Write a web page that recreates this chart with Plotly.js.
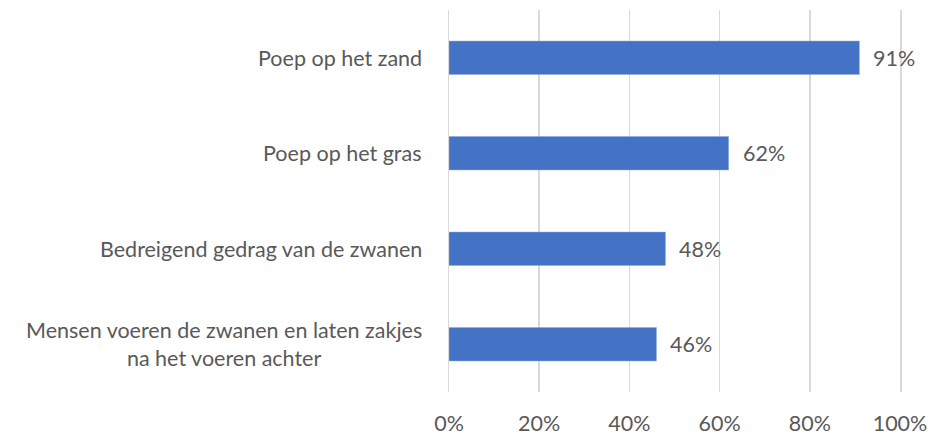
<!DOCTYPE html>
<html>
<head>
<meta charset="utf-8">
<script src="https://cdn.plot.ly/plotly-3.0.1.min.js"></script>
<style>
  html, body { margin: 0; padding: 0; background: #fff; }
  #chart { width: 930px; height: 434px; }
</style>
</head>
<body>
<div id="chart"></div>
<script>
// categories, top to bottom
const categories = [
  'Poep op het zand',
  'Poep op het gras',
  'Bedreigend gedrag van de zwanen',
  'Mensen voeren de zwanen en laten zakjes<br>na het voeren achter'
];
const shares = [0.91, 0.62, 0.48, 0.46];
const xTicks = [0, 0.2, 0.4, 0.6, 0.8, 1];
const xTickLabels = ['0%', '20%', '40%', '60%', '80%', '100%'];

const FONT = 'Lato, "Open Sans", sans-serif';
const FONT_SIZE = 21.5;
const TEXT_COLOR = '#595959';
const GRID = '#d9d9d9';

const trace = {
  type: 'bar',
  orientation: 'h',
  x: shares,
  y: categories,
  marker: {color: '#4472C4', line: {color: '#8faadc', width: 0.5}},
  hoverinfo: 'none'
};

// value labels right of the bars
const valueLabels = shares.map((v, i) => ({
  x: v,
  y: categories[i],
  xref: 'x',
  yref: 'y',
  text: Math.round(v * 100) + '%',
  showarrow: false,
  xanchor: 'left',
  xshift: 12,
  font: {family: FONT, size: FONT_SIZE, color: TEXT_COLOR}
}));

// category labels, centred for the two-line one
const catLabels = categories.map(c => ({
  x: 0,
  y: c,
  xref: 'paper',
  yref: 'y',
  text: c,
  showarrow: false,
  xanchor: 'right',
  align: 'center',
  xshift: -25,
  font: {family: FONT, size: FONT_SIZE, color: TEXT_COLOR}
}));

const layout = {
  width: 930,
  height: 434,
  margin: {l: 449, r: 30, t: 10, b: 42},
  paper_bgcolor: '#fff',
  plot_bgcolor: '#fff',
  showlegend: false,
  bargap: 0.65,
  font: {family: FONT, size: FONT_SIZE, color: TEXT_COLOR},
  xaxis: {
    range: [0, 1],
    tickvals: xTicks,
    ticktext: xTickLabels,
    showgrid: true,
    gridcolor: GRID,
    gridwidth: 1.5,
    zeroline: false,
    showline: false,
    ticks: '',
    ticklabelstandoff: 16,
    fixedrange: true
  },
  yaxis: {
    autorange: 'reversed',
    showticklabels: false,
    showgrid: false,
    zeroline: false,
    // left and right edge lines stand in for the 0% and 100% gridlines
    showline: true,
    mirror: true,
    linecolor: GRID,
    linewidth: 1.5,
    ticks: '',
    fixedrange: true
  },
  annotations: valueLabels.concat(catLabels)
};

Plotly.newPlot('chart', [trace], layout, {displayModeBar: false, staticPlot: true});
</script>
</body>
</html>
